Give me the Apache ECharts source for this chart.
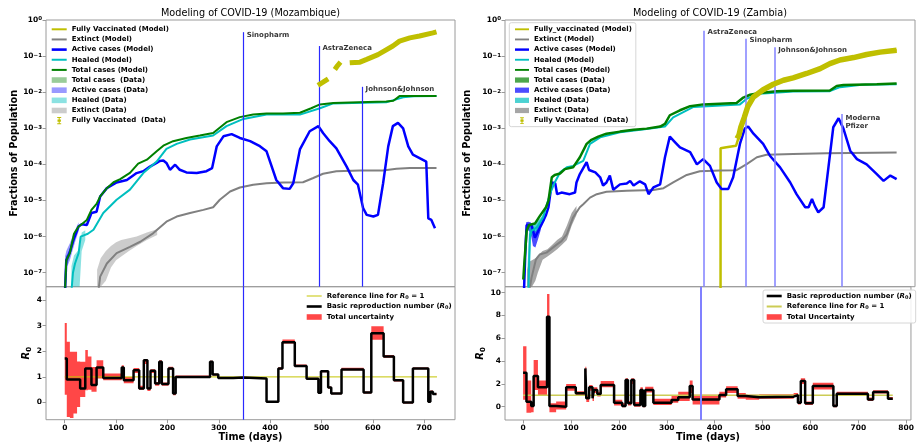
<!DOCTYPE html>
<html><head><meta charset="utf-8">
<script src="https://cdn.jsdelivr.net/npm/echarts@6/dist/echarts.min.js"></script>
<style>html,body{margin:0;padding:0;background:#fff}#c{width:917px;height:445px}</style>
</head><body><div id="c"></div>
<script>
// ---------------- Mozambique: fractions of population ----------------
const mzTotal = [[0,2e-8],[3,2.2e-7],[10,3.5e-7],[18,1.2e-6],[27,1.9e-6],[33,2.2e-6],[43,2.9e-6],[52,5.5e-6],[62,8.1e-6],[69,1.3e-5],[82,2.2e-5],[95,3.2e-5],[108,3.9e-5],[127,5.8e-5],[143,1.05e-4],[160,1.35e-4],[179,2.3e-4],[192,3.3e-4],[211,4.4e-4],[237,5.4e-4],[263,6.3e-4],[289,7.4e-4],[315,1.48e-3],[341,2.04e-3],[367,2.4e-3],[393,2.57e-3],[425,2.57e-3],[458,2.69e-3],[480,3.6e-3],[497,4.6e-3],[523,5.0e-3],[555,5.2e-3],[626,5.5e-3],[640,5.8e-3],[652,7.8e-3],[685,7.9e-3],[724,7.9e-3]];
const mzHealed = [[12,2e-8],[16,1e-7],[20,1.8e-7],[27,3.5e-7],[31,1.0e-6],[45,1.2e-6],[56,1.55e-6],[75,4.5e-6],[101,1.05e-5],[127,2.0e-5],[153,5.75e-5],[179,1.2e-4],[198,2.7e-4],[218,3.7e-4],[244,4.9e-4],[289,6.3e-4],[315,1.15e-3],[348,1.82e-3],[393,2.4e-3],[458,2.4e-3],[497,3.6e-3],[523,4.9e-3],[560,5.0e-3],[626,5.25e-3],[659,7.2e-3],[680,7.7e-3],[724,7.8e-3]];
const mzActive = [[0,2e-8],[3,2.2e-7],[10,3.8e-7],[17,8.1e-7],[27,1.9e-6],[33,2.2e-6],[43,2.1e-6],[52,4.5e-6],[62,4.9e-6],[69,1.29e-5],[82,2.2e-5],[101,3.16e-5],[121,3.7e-5],[140,5.75e-5],[153,6.5e-5],[166,8.7e-5],[179,1.1e-4],[185,1.25e-4],[192,1.29e-4],[198,1.1e-4],[205,7.1e-5],[215,9.8e-5],[224,7.1e-5],[237,6.0e-5],[257,5.75e-5],[276,6.5e-5],[287,7.9e-5],[296,3.16e-4],[309,6.0e-4],[325,6.9e-4],[341,5.4e-4],[361,4.4e-4],[380,3.2e-4],[393,2.3e-4],[412,3.7e-5],[425,2.2e-5],[438,2.1e-5],[445,3.0e-5],[458,2.6e-4],[477,8.3e-4],[494,1.15e-3],[503,7.4e-4],[516,4.4e-4],[529,2.8e-4],[549,8.7e-5],[562,3.7e-5],[571,2.75e-5],[581,6.2e-6],[588,4.0e-6],[601,3.6e-6],[610,4.0e-6],[620,3.0e-5],[630,3.16e-4],[639,1.15e-3],[649,1.41e-3],[659,1.0e-3],[669,3.16e-4],[678,1.86e-4],[704,1.2e-4],[708,3.2e-6],[714,2.9e-6],[721,1.7e-6]];
const mzExtinct = [[64,2e-8],[69,7.8e-8],[82,1.8e-7],[101,3.5e-7],[127,5.2e-7],[147,7.2e-7],[172,1.23e-6],[198,2.6e-6],[218,3.6e-6],[244,4.5e-6],[270,5.5e-6],[289,6.5e-6],[302,1.05e-5],[322,1.78e-5],[341,2.3e-5],[367,2.75e-5],[393,3.0e-5],[425,3.16e-5],[464,3.2e-5],[484,4.2e-5],[503,5.5e-5],[529,6.5e-5],[575,6.8e-5],[620,6.8e-5],[646,7.6e-5],[672,7.9e-5],[724,7.9e-5]];
const mzVaxModel = [];
const mzVaxData = [[493,0.0155],[503,0.019],[513,0.0234],[518,'-'],[526,0.0427],[531,0.054],[537,0.068],[545,'-'],[555,0.065],[575,0.068],[588,0.081],[610,0.11],[639,0.19],[652,0.26],[672,0.32],[691,0.36],[717,0.44],[724,0.47]];
// data bands (lo / hi)
const mzTotBandDays = [0,2,5,10,20], mzTotBandLo = [4.1e-8,1.5e-7,1.8e-7,2.8e-7,9e-7], mzTotBandHi = [1e-7,3e-7,3e-7,4.5e-7,1.5e-6];
const mzActBandDays = [1,3,6,10,15,20,27], mzActBandLo = [4.1e-8,1.5e-7,1.6e-7,2.2e-7,4e-7,7e-7,1.4e-6], mzActBandHi = [3e-7,4e-7,5e-7,6.5e-7,1e-6,1.5e-6,2.5e-6];
const mzHealBandDays = [13,18,24,29,33,40], mzHealBandLo = [4.1e-8,4.1e-8,4.1e-8,4.1e-8,4e-7,8e-7], mzHealBandHi = [1.5e-7,3e-7,3.8e-7,4.5e-7,1.3e-6,1.5e-6];
const mzExtBandDays = [63,70,80,90,100,110,125,140,160,180], mzExtBandLo = [4.1e-8,4.1e-8,6e-8,1.4e-7,2.2e-7,2.8e-7,4e-7,5.5e-7,8e-7,1.1e-6], mzExtBandHi = [1.2e-7,2.5e-7,4e-7,5.5e-7,7e-7,8e-7,9e-7,1e-6,1.3e-6,1.6e-6];
// vaccine introduction markers
const mzVaxNames = ['Sinopharm','AstraZeneca','Johnson&Johnson'];
const mzVaxDays = [347.5,495,579];
const mzVaxTop = [0.46,0.19,0.0141];
const mzVaxLabelY = [0.37,0.167,0.0119];
// ---------------- Mozambique: R0 ----------------
const mzR0Days = [0,4,10,17,24,30,40,45,52,62,75,111,115,134,145,154,161,167,176,184,189,202,211,216,283,288,299,328,348,393,416,424,448,471,494,499,513,519,539,582,597,621,641,659,678,708,712,717,724];
const mzR0Vals = [1.72,0.90,0.90,0.90,0.90,0.55,1.33,1.33,0.68,1.37,0.96,1.37,0.87,1.26,0.55,1.65,0.55,1.24,0.74,1.59,0.72,1.33,0.35,1.0,1.59,1.09,0.96,0.98,0.94,0.03,1.33,2.35,1.43,0.93,0.38,1.22,0.59,0.35,1.29,0.39,2.70,1.80,0.87,0.0,1.33,0.03,0.42,0.33];
const mzR0Lo = [0.3,-0.56,-0.6,-0.43,-0.17,0.22,0.48,0.5,0.42,0.94,0.87,1.2,0.75,1.15,0.5,1.5,0.45,1.15,0.65,1.5,0.65,1.28,0.28,0.97,1.55,1.05,0.95,0.97,0.93,0.0,1.28,2.3,1.4,0.9,0.33,1.18,0.55,0.32,1.26,0.35,2.45,1.75,0.82,-0.04,1.3,0.0,0.38,0.3];
const mzR0Hi = [3.1,2.37,1.98,1.98,1.6,1.59,2.05,1.8,1.39,1.65,1.13,1.45,1.0,1.35,0.65,1.7,0.6,1.3,0.8,1.65,0.78,1.4,0.4,1.05,1.63,1.12,0.98,1.0,0.96,0.06,1.38,2.46,1.48,0.97,0.42,1.26,0.63,0.38,1.36,0.43,2.98,1.85,0.9,0.03,1.37,0.06,0.47,0.36];
const mzRef = [[0,1],[725,1]];
const mzR0Marker = [347.5];

// ---------------- Zambia: fractions of population ----------------
const zmTotal = [[0,6.5e-8],[2,1.7e-7],[7,1.45e-6],[12,2.1e-6],[24,2.3e-6],[34,3.7e-6],[47,6.5e-6],[52,9.8e-6],[59,4.4e-5],[65,5.1e-5],[76,5.6e-5],[86,7.4e-5],[103,8.3e-5],[117,1.58e-4],[131,3.7e-4],[141,4.8e-4],[155,5.9e-4],[172,7.1e-4],[200,8.1e-4],[228,9.1e-4],[255,9.8e-4],[283,1.12e-3],[293,1.32e-3],[303,2.3e-3],[324,3.16e-3],[345,4.1e-3],[372,4.6e-3],[407,4.8e-3],[441,5.0e-3],[455,7.1e-3],[469,8.5e-3],[489,9.5e-3],[524,1.07e-2],[558,1.1e-2],[634,1.12e-2],[648,1.48e-2],[662,1.58e-2],[731,1.66e-2],[772,1.74e-2]];
const zmHealed = [[10,2e-8],[14,1.15e-6],[17,1.45e-6],[28,1.8e-6],[41,3.4e-6],[55,1.5e-5],[65,3.16e-5],[76,6e-5],[90,8.3e-5],[103,9.1e-5],[124,1.26e-4],[138,3.7e-4],[159,5.6e-4],[200,7.8e-4],[255,9.5e-4],[293,1.12e-3],[310,2.0e-3],[352,3.9e-3],[448,4.6e-3],[462,6.6e-3],[489,9.1e-3],[558,1.05e-2],[634,1.07e-2],[655,1.38e-2],[700,1.6e-2],[772,1.66e-2]];
const zmActive = [[1,2e-8],[4,3e-7],[7,2.1e-6],[17,2.1e-6],[24,9.3e-7],[28,1.0e-6],[38,2.2e-6],[47,4.0e-6],[52,6.5e-6],[59,3.16e-5],[66,3.0e-5],[70,1.5e-5],[79,1.66e-5],[96,1.5e-5],[107,1.66e-5],[110,3.16e-5],[117,5.4e-5],[131,1.15e-4],[136,7e-5],[149,6.0e-5],[159,4.4e-5],[165,2.6e-5],[172,3.16e-5],[179,4.9e-5],[186,2.0e-5],[190,1.86e-5],[200,2.8e-5],[214,2.95e-5],[221,3.5e-5],[228,2.6e-5],[241,3.4e-5],[252,2.8e-5],[259,1.5e-5],[269,2.3e-5],[283,2.8e-5],[293,1.58e-4],[303,5.9e-4],[314,4.1e-4],[324,2.95e-4],[345,2.2e-4],[359,1.0e-4],[372,1.4e-4],[386,9.1e-5],[400,3.16e-5],[410,2.1e-5],[424,2.1e-5],[434,4.4e-5],[448,3.7e-4],[458,9.8e-4],[465,1.12e-3],[476,7.1e-4],[496,3.7e-4],[510,1.74e-4],[531,8.3e-5],[552,3.16e-5],[565,1.5e-5],[583,6.5e-6],[590,6.5e-6],[597,1.1e-5],[603,7e-6],[610,4.7e-6],[621,6.5e-6],[631,8.3e-5],[641,1.07e-3],[652,1.9e-3],[662,9.8e-4],[676,2.4e-4],[690,1.4e-4],[710,1.0e-4],[731,5.4e-5],[745,3.5e-5],[759,4.9e-5],[772,3.9e-5]];
const zmExtinct = [[10,2e-8],[17,7.2e-8],[26,2.3e-7],[34,3.2e-7],[48,3.6e-7],[69,6.0e-7],[79,7.5e-7],[90,1.15e-6],[103,3.4e-6],[117,6.5e-6],[124,7.9e-6],[138,1.2e-5],[152,1.5e-5],[172,1.74e-5],[214,1.86e-5],[269,1.95e-5],[290,2.2e-5],[310,3.16e-5],[338,5.1e-5],[365,6.5e-5],[407,6.8e-5],[441,6.9e-5],[462,1.02e-4],[483,1.58e-4],[503,1.86e-4],[558,1.95e-4],[627,2.04e-4],[772,2.14e-4]];
const zmVaxModel = [[407.9,2e-8],[408,2.8e-4],[420,3.0e-4],[440,3.3e-4],[446,6e-4],[450,1.1e-3],[457,2.0e-3],[464,3.9e-3],[476,7.4e-3],[496,1.17e-2],[517,1.66e-2],[538,2.14e-2],[558,2.5e-2],[586,3.3e-2],[614,4.5e-2],[634,6.2e-2],[655,7.8e-2],[683,9.1e-2],[710,0.111],[738,0.129],[772,0.146]];
const zmVaxData = [[442,5.2e-4],[446,6.5e-4],[450,1.1e-3],[457,2.0e-3],[464,3.9e-3],[476,7.4e-3],[496,1.17e-2],[517,1.66e-2],[538,2.14e-2],[558,2.5e-2],[586,3.3e-2],[614,4.5e-2],[634,6.2e-2],[655,7.8e-2],[683,9.1e-2],[710,0.111],[738,0.129],[772,0.146]];
const zmTotBandDays = [0,3,6,10], zmTotBandLo = [4.1e-8,1e-7,1.2e-6,1.8e-6], zmTotBandHi = [9e-8,3e-7,1.8e-6,2.4e-6];
const zmActBandDays = [3,6,10,15,20,25,30,36], zmActBandLo = [4.1e-8,1.2e-6,1.5e-6,1.3e-6,5.5e-7,5e-7,8e-7,1.5e-6], zmActBandHi = [1e-6,2.5e-6,2.6e-6,2.5e-6,2e-6,1.4e-6,1.8e-6,2.8e-6];
const zmHealBandDays = [9,12,15,20,27,35,45], zmHealBandLo = [4.1e-8,4.1e-8,9e-7,1.2e-6,1.4e-6,1.9e-6,2.8e-6], zmHealBandHi = [1.6e-7,1.4e-6,1.9e-6,2.2e-6,2.5e-6,3.2e-6,5e-6];
const zmExtBandDays = [8,12,18,25,30,40,50,60,70,80,90,100,110], zmExtBandLo = [4.1e-8,4.1e-8,4.1e-8,6e-8,1e-7,2.3e-7,2.8e-7,3.5e-7,4.5e-7,6e-7,8e-7,2e-6,4e-6], zmExtBandHi = [1.2e-7,2e-7,2.2e-7,2.5e-7,3e-7,4e-7,4.5e-7,6e-7,8e-7,1e-6,2e-6,4.5e-6,7e-6];
const zmVaxNames = ['AstraZeneca','Sinopharm','Johnson&Johnson','Moderna\nPfizer'];
const zmVaxDays = [373.7,460.6,520,659];
const zmVaxTop = [0.506,0.303,0.175,0.0025];
const zmVaxLabelY = [0.446,0.279,0.148,0.00145];
// ---------------- Zambia: R0 ----------------
const zmR0Days = [0,7,17,22,31,50,55,69,90,110,130,132,138,145,148,155,162,190,207,214,219,226,232,245,250,255,272,310,324,348,354,410,424,448,465,493,565,574,580,589,605,648,655,720,731,762,772];
const zmR0Vals = [2.98,0.44,0.06,2.69,1.70,7.9,0.06,0.0,1.70,1.17,3.36,0.73,1.70,0.73,1.46,1.11,1.90,0.35,0.06,2.34,0.29,2.34,0.15,1.46,0.06,1.46,0.35,0.58,0.82,1.81,0.64,1.02,1.52,0.94,0.82,0.88,1.02,0.35,2.25,0.29,1.81,0.06,1.14,0.64,1.29,0.70];
const zmR0Lo = [0.6,-0.53,-0.5,1.46,1.0,5.9,-0.5,-0.25,1.4,0.95,3.0,0.4,1.4,0.5,1.2,0.9,1.7,0.1,-0.05,2.0,0.1,2.0,0.0,1.2,-0.05,1.25,0.15,0.35,0.5,1.2,0.2,0.8,1.2,0.7,0.6,0.7,0.85,0.2,2.0,0.15,1.5,-0.05,1.0,0.5,1.15,0.6];
const zmR0Hi = [5.3,2.3,0.3,4.1,2.3,9.9,0.3,0.45,2.0,1.35,3.5,1.0,1.9,1.0,1.7,1.3,2.25,0.6,0.3,2.5,0.5,2.5,0.4,1.7,0.3,1.75,0.7,0.95,1.3,2.3,1.05,1.3,1.8,1.2,1.05,1.1,1.2,0.5,2.5,0.45,2.1,0.2,1.3,0.8,1.45,0.85];
const zmRef = [[0,1],[772,1]];
const zmR0Marker = [372];

// tick labels
const mzXTicks = [0,100,200,300,400,500,600,700];
const zmXTicks = [0,100,200,300,400,500,600,700,800];
const mzR0Ticks = [0,1,2,3,4];
const zmR0Ticks = [0,2,4,6,8,10];

// ---------------- styling / helpers ----------------
const FONT = 'DejaVu Sans';
const LOGMIN = 4.1e-8;
const COL = {vax:'#bfbf00', ext:'#808080', act:'#0000ff', heal:'#00bfbf', tot:'#008000'};
const IC = {
  l1:'path://M0,0M15,8M0,3.5H15V4.5H0Z',
  l2:'path://M0,0M15,8M0,3H15V5H0Z',
  l25:'path://M0,0M15,8M0,2.7H15V5.3H0Z',
  rect:'path://M0,0M15,8M0,1.2H15V6.8H0Z',
  err:'path://M0,0M15,8M5.5,0.3H9.5V1.3H8V2.8H9.2V5.2H8V6.7H9.5V7.7H5.5V6.7H7V5.2H5.8V2.8H7V1.3H5.5Z'
};
function bold(sz){ return {fontFamily:FONT, fontWeight:'bold', fontSize:sz, color:'#000'}; }
const toPairs = (days, vals) => days.map((d,i) => [d, vals[Math.min(i, vals.length-1)]]);

function lineS(name, xi, yi, data, color, width, z, extra) {
  return Object.assign({name, type:'line', xAxisIndex:xi, yAxisIndex:yi, data, symbol:'none', showSymbol:false,
    lineStyle:{color, width}, itemStyle:{color}, z, silent:true, animation:false, connectNulls:false}, extra||{});
}
function bandS(name, xi, yi, days, lo, hi, color, step) {
  return {name, type:'custom', xAxisIndex:xi, yAxisIndex:yi, itemStyle:{color}, z:1, silent:true, animation:false,
    data:[[days[0], hi[0]]],
    renderItem(params, api) {
      const up = [], dn = [];
      if (step) {
        for (let i = 0; i < days.length - 1; i++) {
          up.push(api.coord([days[i], hi[i]]), api.coord([days[i+1], hi[i]]));
          dn.push(api.coord([days[i], lo[i]]), api.coord([days[i+1], lo[i]]));
        }
      } else {
        for (let i = 0; i < days.length; i++) { up.push(api.coord([days[i], hi[i]])); dn.push(api.coord([days[i], lo[i]])); }
      }
      const cs = params.coordSys;
      return {type:'polygon', shape:{points: up.concat(dn.reverse())}, style:{fill: color},
        clipPath:{type:'rect', shape:{x:cs.x, y:cs.y, width:cs.width, height:cs.height}}};
    }};
}
function vaxS(xi, yi, days, tops, labelY, names, color, width) {
  return {type:'scatter', xAxisIndex:xi, yAxisIndex:yi, symbolSize:1, itemStyle:{color:'rgba(0,0,0,0)'}, silent:true, z:6, animation:false,
    data: days.map((d,i) => ({value:[d, labelY[i]], name:names[i]})),
    label:{show:true, position:'right', distance:3, formatter:'{b}', ...bold(7), lineHeight:8.4},
    markLine:{silent:true, symbol:['none','none'], animation:false, label:{show:false}, emphasis:{disabled:true},
      lineStyle:{color, width, type:'solid', opacity:1},
      data: days.map((d,i) => [{coord:[d, tops[i]], lineStyle:{color, width}}, {coord:[d, LOGMIN]}])}};
}
const powFmt = v => { const e = Math.round(Math.log10(v)); return '{b|10}{s|' + (e < 0 ? '\u2212' + (-e) : e) + '}'; };
const powRich = {b:{...bold(7.5), lineHeight:8, verticalAlign:'bottom'}, s:{...bold(5.5), lineHeight:6, padding:[0,0,4.5,0], verticalAlign:'top'}};
const r0Rich = {i:{...bold(10), fontStyle:'italic', lineHeight:12}, s:{...bold(7), lineHeight:7, verticalAlign:'bottom'}};

function xAx(gi, min, max, ticks, show) {
  return {type:'value', gridIndex:gi, min, max, splitLine:{show:false},
    axisLine:{show:false, onZero:false},
    axisTick:{show, length:3.5, lineStyle:{color:'#999'}, customValues:ticks},
    axisLabel:{show, customValues:ticks, margin:4, ...bold(7.5)},
    name: show ? 'Time (days)' : '', nameLocation:'middle', nameGap:12.5, nameTextStyle:bold(9.7)};
}
function yLog(gi, gap) {
  return {type:'log', logBase:10, gridIndex:gi, min:LOGMIN, max:1, splitLine:{show:false},
    axisLine:{show:false, onZero:false}, minorTick:{show:false},
    axisTick:{length:3.5, lineStyle:{color:'#999'}},
    axisLabel:{showMinLabel:false, margin:4, formatter:powFmt, rich:powRich, ...bold(7.5)},
    name:'Fractions of Population', nameLocation:'middle', nameRotate:90, nameGap:gap, nameTextStyle:bold(9.7)};
}
function yR0(gi, min, max, ticks, gap) {
  return {type:'value', gridIndex:gi, min, max, splitLine:{show:false},
    axisLine:{show:false, onZero:false},
    axisTick:{length:3.5, lineStyle:{color:'#999'}, customValues:ticks},
    axisLabel:{customValues:ticks, margin:4, ...bold(7.5)},
    name:'{i|R}{s|0}', nameLocation:'middle', nameRotate:90, nameGap:gap, nameTextStyle:{rich:r0Rich, ...bold(10)}};
}
const legText = {...bold(7), lineHeight:8, rich:{i:{...bold(7), fontStyle:'italic', lineHeight:8}, s:{...bold(5), lineHeight:5, verticalAlign:'bottom'}}};
const disp = n => n.slice(3).replace('(R0)', '({i|R}{s|0})').replace('R0 = 1', '{i|R}{s|0} = 1');
function legend(left, top, padding, itemWidth, gap, items, frame) {
  return {orient:'vertical', left, top, padding, itemWidth, itemHeight:8, itemGap:gap, selectedMode:false,
    textStyle:legText, formatter:disp, itemStyle:{borderWidth:0},
    backgroundColor: frame ? 'rgba(255,255,255,0.85)' : 'transparent',
    borderColor: frame ? '#d6d6d6' : 'transparent', borderWidth: frame ? 1 : 0, borderRadius:2,
    data: items.map(([name, icon]) => ({name, icon}))};
}
const grid = (left, top, width, height) => ({left, top, width, height, show:true, borderColor:'#9a9a9a', borderWidth:1, backgroundColor:'transparent'});

const mzBand = ['rgba(0,128,0,0.4)','rgba(0,0,255,0.4)','rgba(0,191,191,0.45)','rgba(128,128,128,0.4)'];
const zmBand = ['rgba(0,128,0,0.7)','rgba(0,0,255,0.7)','rgba(0,191,191,0.7)','rgba(128,128,128,0.7)'];

const series = [
  // Mozambique top
  bandS('mz:Total cases  (Data)', 0, 0, mzTotBandDays, mzTotBandLo, mzTotBandHi, mzBand[0]),
  bandS('mz:Active cases (Data)', 0, 0, mzActBandDays, mzActBandLo, mzActBandHi, mzBand[1]),
  bandS('mz:Healed (Data)', 0, 0, mzHealBandDays, mzHealBandLo, mzHealBandHi, mzBand[2]),
  bandS('mz:Extinct (Data)', 0, 0, mzExtBandDays, mzExtBandLo, mzExtBandHi, mzBand[3]),
  lineS('mz:Fully Vaccinated (Model)', 0, 0, mzVaxModel, COL.vax, 2, 2),
  lineS('mz:Extinct (Model)', 0, 0, mzExtinct, COL.ext, 2, 2),
  lineS('mz:Active cases (Model)', 0, 0, mzActive, COL.act, 2.5, 3),
  lineS('mz:Healed (Model)', 0, 0, mzHealed, COL.heal, 2, 3),
  lineS('mz:Total cases (Model)', 0, 0, mzTotal, COL.tot, 2, 4),
  lineS('mz:Fully Vaccinated  (Data)', 0, 0, mzVaxData, COL.vax, 5, 5),
  vaxS(0, 0, mzVaxDays, mzVaxTop, mzVaxLabelY, mzVaxNames, '#2a2aff', 1.2),
  // Mozambique R0
  bandS('mz:Total uncertainty', 1, 1, mzR0Days, mzR0Lo, mzR0Hi, 'rgba(255,0,0,0.72)', true),
  lineS('mz:Reference line for R0 = 1', 1, 1, mzRef, '#c4c400', 1, 2),
  lineS('mz:Basic reproduction number (R0)', 1, 1, toPairs(mzR0Days, mzR0Vals), '#000', 2.5, 3, {step:'end'}),
  {type:'scatter', xAxisIndex:1, yAxisIndex:1, data:[], silent:true, itemStyle:{color:'#2a2aff'},
    markLine:{silent:true, symbol:['none','none'], animation:false, label:{show:false}, emphasis:{disabled:true},
      lineStyle:{color:'#2a2aff', width:1.2, type:'solid'}, data: mzR0Marker.map(d => ({xAxis:d}))}},
  // Zambia top
  bandS('zm:Total cases (Data)', 2, 2, zmTotBandDays, zmTotBandLo, zmTotBandHi, zmBand[0]),
  bandS('zm:Active cases (Data)', 2, 2, zmActBandDays, zmActBandLo, zmActBandHi, zmBand[1]),
  bandS('zm:Healed (Data)', 2, 2, zmHealBandDays, zmHealBandLo, zmHealBandHi, zmBand[2]),
  bandS('zm:Extinct (Data)', 2, 2, zmExtBandDays, zmExtBandLo, zmExtBandHi, zmBand[3]),
  lineS('zm:Fully_vaccinated (Model)', 2, 2, zmVaxModel, COL.vax, 2.5, 2),
  lineS('zm:Extinct (Model)', 2, 2, zmExtinct, COL.ext, 2, 2),
  lineS('zm:Active cases (Model)', 2, 2, zmActive, COL.act, 2.5, 3),
  lineS('zm:Healed (Model)', 2, 2, zmHealed, COL.heal, 2, 3),
  lineS('zm:Total cases (Model)', 2, 2, zmTotal, COL.tot, 2.5, 4),
  lineS('zm:Fully Vaccinated  (Data)', 2, 2, zmVaxData, COL.vax, 5.5, 5),
  vaxS(2, 2, zmVaxDays, zmVaxTop, zmVaxLabelY, zmVaxNames, '#8080ff', 1.5),
  // Zambia R0
  bandS('zm:Total Uncertainty', 3, 3, zmR0Days, zmR0Lo, zmR0Hi, 'rgba(255,0,0,0.72)', true),
  lineS('zm:Reference line for R0 = 1', 3, 3, zmRef, '#cccc55', 1.5, 2),
  lineS('zm:Basic reproduction number (R0)', 3, 3, toPairs(zmR0Days, zmR0Vals), '#000', 2.5, 3, {step:'end'}),
  {type:'scatter', xAxisIndex:3, yAxisIndex:3, data:[], silent:true, itemStyle:{color:'#8080ff'},
    markLine:{silent:true, symbol:['none','none'], animation:false, label:{show:false}, emphasis:{disabled:true},
      lineStyle:{color:'#8080ff', width:2, type:'solid'}, data: zmR0Marker.map(d => ({xAxis:d}))}}
];

const option = {
  animation:false,
  backgroundColor:'#fff',
  title:[
    {text:'Modeling of COVID-19 (Mozambique)', left:250.5, top:8.5, textAlign:'center', padding:0, textStyle:{fontFamily:FONT, fontWeight:'normal', fontSize:9.7, color:'#000'}},
    {text:'Modeling of COVID-19 (Zambia)', left:710, top:8.5, textAlign:'center', padding:0, textStyle:{fontFamily:FONT, fontWeight:'normal', fontSize:9.7, color:'#000'}}
  ],
  grid:[grid(46,20,409,266.7), grid(46,286.7,409,133), grid(505,20,410,266.7), grid(505,286.7,410,133.3)],
  xAxis:[xAx(0,-36.5,760,mzXTicks,false), xAx(1,-36.5,760,mzXTicks,true), xAx(2,-37.8,810,zmXTicks,false), xAx(3,-37.8,810,zmXTicks,true)],
  yAxis:[yLog(0,25.5), yR0(1,-0.67,4.52,mzR0Ticks,12), yLog(2,33), yR0(3,-1.17,10.53,zmR0Ticks,18)],
  legend:[
    legend(46, 22.7, [2.6,5,2,5.7], 15, 2.15, [
      ['mz:Fully Vaccinated (Model)', IC.l2], ['mz:Extinct (Model)', IC.l2], ['mz:Active cases (Model)', IC.l25],
      ['mz:Healed (Model)', IC.l2], ['mz:Total cases (Model)', IC.l2], ['mz:Total cases  (Data)', IC.rect],
      ['mz:Active cases (Data)', IC.rect], ['mz:Healed (Data)', IC.rect], ['mz:Extinct (Data)', IC.rect],
      ['mz:Fully Vaccinated  (Data)', IC.err]], false),
    legend(301, 290, [2,4,2,5.7], 15, 2.5, [
      ['mz:Reference line for R0 = 1', IC.l1], ['mz:Basic reproduction number (R0)', IC.l25], ['mz:Total uncertainty', IC.rect]], false),
    legend(509.3, 22.7, [2.6,4,2,5.7], 14, 2.15, [
      ['zm:Fully_vaccinated (Model)', IC.l2], ['zm:Extinct (Model)', IC.l2], ['zm:Active cases (Model)', IC.l25],
      ['zm:Healed (Model)', IC.l2], ['zm:Total cases (Model)', IC.l2], ['zm:Total cases (Data)', IC.rect],
      ['zm:Active cases (Data)', IC.rect], ['zm:Healed (Data)', IC.rect], ['zm:Extinct (Data)', IC.rect],
      ['zm:Fully Vaccinated  (Data)', IC.err]], true),
    legend(763, 290, [2,4,2,3.7], 15, 2.5, [
      ['zm:Basic reproduction number (R0)', IC.l25], ['zm:Reference line for R0 = 1', IC.l2], ['zm:Total Uncertainty', IC.rect]], true)
  ],
  series
};
const chart = echarts.init(document.getElementById('c'), null, {renderer:'canvas'});
chart.setOption(option);
</script></body></html>
